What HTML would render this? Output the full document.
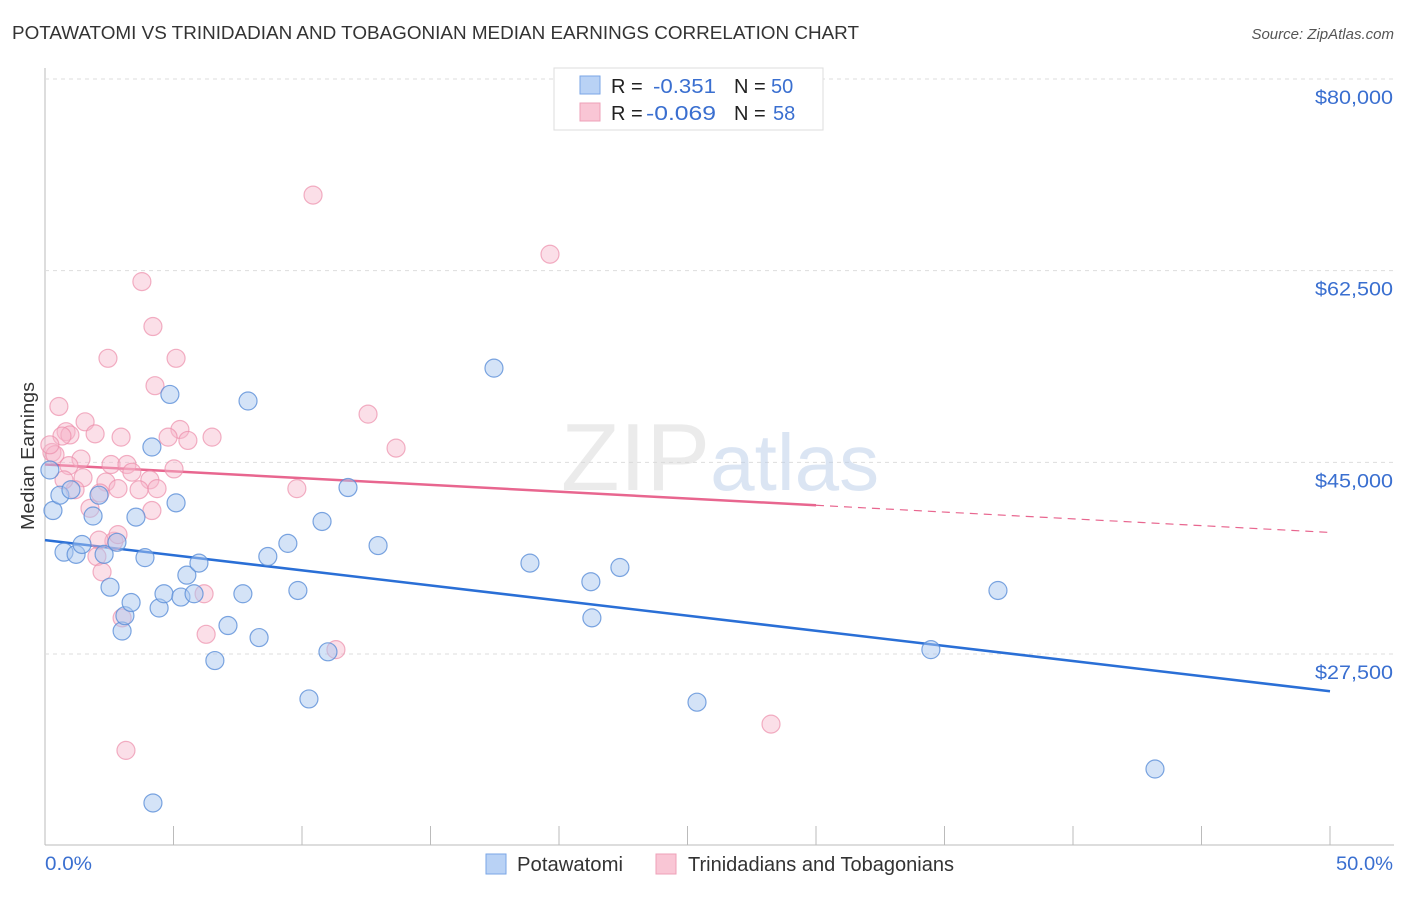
<!DOCTYPE html>
<html><head><meta charset="utf-8"><style>
body{margin:0;background:#fff;font-family:"Liberation Sans",sans-serif;}
svg text{font-family:"Liberation Sans",sans-serif;}
</style></head><body>
<svg id="chart" width="1406" height="892" viewBox="0 0 1406 892" xmlns="http://www.w3.org/2000/svg">
<text x="12" y="39" font-size="18" fill="#333" textLength="847" lengthAdjust="spacingAndGlyphs">POTAWATOMI VS TRINIDADIAN AND TOBAGONIAN MEDIAN EARNINGS CORRELATION CHART</text>
<text x="1394" y="39" font-size="15" fill="#555" text-anchor="end" font-style="italic">Source: ZipAtlas.com</text>
<text transform="translate(34,456) rotate(-90)" font-size="18" fill="#333" text-anchor="middle" textLength="148" lengthAdjust="spacingAndGlyphs">Median Earnings</text>
<g id="grid"></g>
<text x="720" y="490" font-size="96" text-anchor="middle" fill="#d8d8d8" opacity="0.5" font-family="Liberation Serif">ZIP<tspan fill="#b8cce8" font-family="Liberation Sans" font-size="80">atlas</tspan></text>
<g id="trend"></g>
<g id="points"></g>
<g>
<rect x="554" y="68" width="269" height="62" fill="#fff" stroke="#ddd"/>
<rect x="580" y="76" width="20" height="18" fill="#b9d2f5" stroke="#7aa6e6"/>
<rect x="580" y="103" width="20" height="18" fill="#f9c6d5" stroke="#eea0b8"/>
<text x="611" y="93" font-size="20" fill="#222">R =</text>
<text x="653" y="93" font-size="20" fill="#3a6fd0" textLength="63" lengthAdjust="spacingAndGlyphs">-0.351</text>
<text x="734" y="93" font-size="20" fill="#222">N =</text>
<text x="771" y="93" font-size="20" fill="#3a6fd0">50</text>
<text x="611" y="120" font-size="20" fill="#222">R =</text>
<text x="646" y="120" font-size="20" fill="#3a6fd0" textLength="70" lengthAdjust="spacingAndGlyphs">-0.069</text>
<text x="734" y="120" font-size="20" fill="#222">N =</text>
<text x="773" y="120" font-size="20" fill="#3a6fd0">58</text>
</g>
<g>
<rect x="486" y="854" width="20" height="20" fill="#b9d2f5" stroke="#7aa6e6"/>
<text x="517" y="871" font-size="20" fill="#333" textLength="106" lengthAdjust="spacingAndGlyphs">Potawatomi</text>
<rect x="656" y="854" width="20" height="20" fill="#f9c6d5" stroke="#eea0b8"/>
<text x="688" y="871" font-size="20" fill="#333" textLength="266" lengthAdjust="spacingAndGlyphs">Trinidadians and Tobagonians</text>
</g>
<text x="45" y="870" font-size="19" fill="#3a6fd0" textLength="47" lengthAdjust="spacingAndGlyphs">0.0%</text>
<text x="1336" y="870" font-size="19" fill="#3a6fd0" textLength="57" lengthAdjust="spacingAndGlyphs">50.0%</text>
</svg>
<script>
const blueX=[4.20,43.19,10.27,25.37,6.61,11.01,34.47,3.00,8.33,7.12,3.11,4.44,3.35,7.70,4.63,5.29,5.80,2.53,9.84,37.08,21.28,21.24,22.37,18.87,5.52,5.99,3.89,8.67,0.74,1.21,2.30,1.44,2.80,9.45,12.96,1.87,3.54,10.78,0.31,0.58,2.10,5.10,1.01,11.79,4.16,7.90,4.86,17.47,0.19];
const blueY=[13900,17000,23400,23100,26900,27700,27900,29600,29000,30100,31000,31700,32200,33000,33000,32700,33000,33600,33300,33300,30800,34100,35400,35800,34700,35800,36300,36400,36800,36600,36600,37500,37700,37600,37400,40100,40000,39600,40600,42000,42000,41300,42500,42700,46400,50600,51200,53600,44300];
const pinkX=[10.43,19.65,3.77,4.20,2.45,5.10,4.28,0.54,12.57,1.56,13.66,5.25,1.95,0.82,0.97,0.66,2.96,6.50,4.79,5.56,0.27,0.39,1.40,2.57,3.19,0.93,5.02,3.38,4.08,1.48,2.37,2.84,3.66,4.36,1.17,9.80,2.14,1.75,4.16,2.68,2.10,2.84,2.02,2.22,3.00,6.19,6.27,11.32,28.25,3.15,0.19,0.74];
const pinkY=[69400,64000,61500,57400,54500,54500,52000,50100,49400,48700,46300,48000,47600,47800,47500,47400,47300,47300,47300,47000,45900,45700,45300,44800,44800,44700,44400,44100,43400,43600,43200,42600,42500,42600,42500,42600,42200,40800,40600,37800,37900,38400,36400,35000,30800,33000,29300,27900,21100,18700,46600,43400];
const yTicks=[80000,62500,45000,27500];
const yTickLabels=["$80,000","$62,500","$45,000","$27,500"];
const xTicks=[0,5,10,15,20,25,30,35,40,45,50];
const blueTrend=[37900,24100];
const pinkTrend=[44800,38600];
const pinkSolidEnd=30;

const X=v=>45+v/50*1285;
const Y=v=>79+(80000-v)/17500*191.67;
const NS="http://www.w3.org/2000/svg";
function mk(tag,attrs,parent){const e=document.createElementNS(NS,tag);for(const k in attrs)e.setAttribute(k,attrs[k]);parent.appendChild(e);return e;}
const grid=document.getElementById('grid');
let ax=mk('line',{x1:45,y1:68,x2:45,y2:845,stroke:'#bbb'},grid);


let bx=mk('line',{x1:45,y1:845,x2:1394,y2:845,stroke:'#bbb'},grid);


yTicks.forEach((t,i)=>{
 let g=mk('line',{x1:45,y1:Y(t),x2:1394,y2:Y(t),stroke:'#ddd','stroke-dasharray':'4,4'},grid);
 
 
 let tx=mk('text',{x:1315,y:Y(t)+25,'font-size':19,fill:'#3a6fd0',textLength:78,lengthAdjust:'spacingAndGlyphs'},grid);
 tx.textContent=yTickLabels[i];
 
 
});
xTicks.forEach(t=>{
 let l=mk('line',{x1:X(t),y1:826,x2:X(t),y2:845,stroke:'#bbb'},grid);
 
 
});
const pts=document.getElementById('points');
pinkX.forEach((x,i)=>{
 let c=mk('circle',{cx:X(x),cy:Y(pinkY[i]),r:9,fill:'#f7b8cb','fill-opacity':0.45,stroke:'#ec8fab','stroke-opacity':0.7,'stroke-width':1.2},pts);
 
 
});
blueX.forEach((x,i)=>{
 let c=mk('circle',{cx:X(x),cy:Y(blueY[i]),r:9,fill:'#a9c8f0','fill-opacity':0.5,stroke:'#5b8fd8','stroke-opacity':0.8,'stroke-width':1.2},pts);
 
 
});
const tr=document.getElementById('trend');
let bl=mk('line',{x1:X(0),y1:Y(blueTrend[0]),x2:X(50),y2:Y(blueTrend[1]),stroke:'#2a6fd6','stroke-width':2.5},tr);


const pm=pinkTrend[0]+(pinkTrend[1]-pinkTrend[0])*pinkSolidEnd/50;
let pl=mk('line',{x1:X(0),y1:Y(pinkTrend[0]),x2:X(pinkSolidEnd),y2:Y(pm),stroke:'#e8668f','stroke-width':2.5},tr);


let pd=mk('line',{x1:X(pinkSolidEnd),y1:Y(pm),x2:X(50),y2:Y(pinkTrend[1]),stroke:'#e8668f','stroke-width':1.2,'stroke-dasharray':'8,6'},tr);


</script>
</body></html>
